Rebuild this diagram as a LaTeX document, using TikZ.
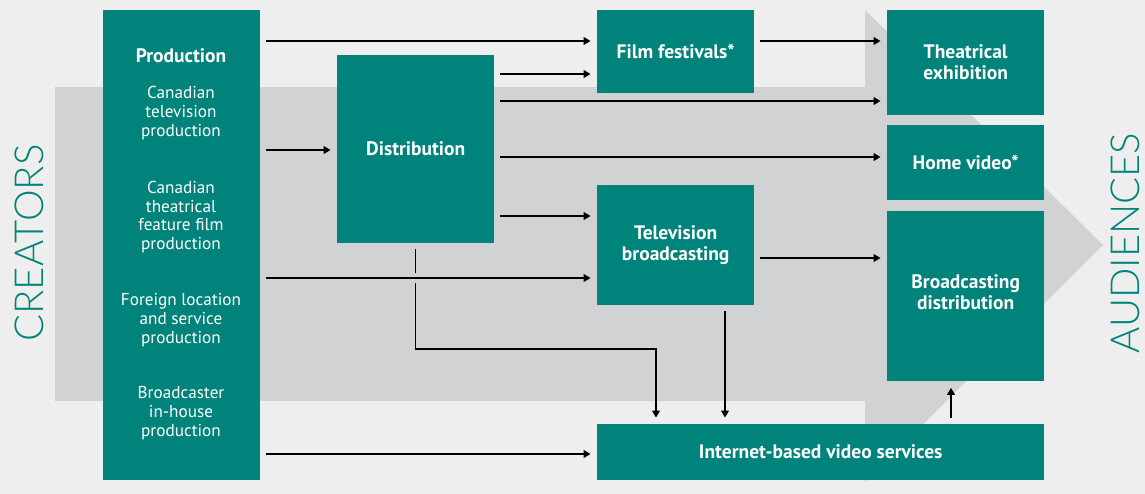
\documentclass[tikz,border=0pt]{standalone}
\usepackage{fontspec}
\setsansfont{PT Sans}
\newfontfamily\sidefont{Lato Light}
\usetikzlibrary{arrows.meta, positioning}
\definecolor{pagebg}{HTML}{EEEEEE}
\definecolor{bodygray}{HTML}{D1D2D4}
\definecolor{boxteal}{HTML}{00837B}

\begin{document}
\begin{tikzpicture}[
        x=1pt, y=-1pt,
        stage/.style={
            rectangle,
            fill=boxteal,
            text=white,
            inner sep=0pt,
            anchor=north west,
            align=center,
            font=\sffamily\bfseries\fontsize{19.5}{21}\selectfont
        },
        subtext/.style={
            text=white,
            align=center,
            font=\sffamily\fontsize{17.2}{18.8}\selectfont
        },
        sidelabel/.style={
            text=boxteal,
            rotate=90,
            font=\sidefont\fontsize{40}{40}\selectfont
        },
        flow/.style={
            -{Triangle[length=7pt, width=8pt]},
            line width=1.1pt,
            shorten <=6pt,
            shorten >=6.5pt
        }
    ]

    \useasboundingbox (0,0) rectangle (1145,494);

    % Backdrop and the big arrow
    \fill[pagebg] (0,0) rectangle (1145,494);
    \fill[bodygray] (55,87) rectangle (866,401);
    \fill[bodygray] (865,10) -- (1103,245) -- (865,482) -- cycle;

    \node[sidelabel] (creators) at (29,243) {CREATORS};
    \node[sidelabel] (audiences) at (1125,243) {AUDIENCES};

    % Production column
    \node[stage, minimum width=157pt, minimum height=470pt] (prod) at (103,10) {};
    \node[stage, anchor=center, fill=none] (prodtitle) at (181,56) {Production};
    \node[subtext] (cdntv) at (181,113) {Canadian\\television\\production};
    \node[subtext] (cdnfilm) at (181,217) {Canadian\\theatrical\\feature film\\production};
    \node[subtext] (foreign) at (181,320) {Foreign location\\and service\\production};
    \node[subtext] (inhouse) at (181,413) {Broadcaster\\in-house\\production};

    % Middle stages
    \node[stage, minimum width=157pt, minimum height=188pt] (dist) at (337,55) {Distribution};
    \node[stage, minimum width=157pt, minimum height=83pt] (fest) at (597,10) {Film festivals*};
    \node[stage, minimum width=157pt, minimum height=120pt] (tvb) at (597,185) {Television\\broadcasting};
    \node[stage, minimum width=447pt, minimum height=56pt] (inet) at (597,424) {Internet-based video services};

    % Audience-facing stages
    \node[stage, minimum width=157pt, minimum height=105pt] (theatre) at (887,10) {Theatrical\\exhibition};
    \node[stage, minimum width=157pt, minimum height=75pt] (homevid) at (887,125) {Home video*};
    \node[stage, minimum width=157pt, minimum height=170pt] (bdist) at (887,211) {};
    \node[stage, anchor=center, fill=none] (bdisttext) at ([yshift=4pt]bdist.center) {Broadcasting\\distribution};

    % Connecting arrows
    \draw[flow] (prod.east |- 0,41) -- (fest.west |- 0,41);
    \draw[flow] (dist.east |- 0,74) -- (fest.west |- 0,74);
    \draw[flow] (fest.east |- 0,41) -- (theatre.west |- 0,41);
    \draw[flow] (dist.east |- 0,101) -- (theatre.west |- 0,101);
    \draw[flow] (prod.east |- 0,150) -- (dist.west |- 0,150);
    \draw[flow] (dist.east |- 0,157) -- (homevid.west |- 0,157);
    \draw[flow] (dist.east |- 0,216) -- (tvb.west |- 0,216);
    \draw[flow] (tvb.east |- 0,258) -- (bdist.west |- 0,258);
    \draw[flow] (dist.south) -- (dist.south |- 0,349) -| (inet.north -| 656,0);
    \coordinate (cross) at (dist.south |- 0,278);
    \fill[bodygray] ([shift={(-3,-5)}]cross) rectangle ([shift={(3,5)}]cross);
    \draw[flow] (prod.east |- 0,278) -- (tvb.west |- 0,278);
    \draw[flow] (tvb.south -| 725,0) -- (inet.north -| 725,0);
    \draw[flow] (inet.north -| 951,0) -- (bdist.south -| 951,0);
    \draw[flow] (prod.east |- 0,454) -- (inet.west |- 0,454);

\end{tikzpicture}
\end{document}
